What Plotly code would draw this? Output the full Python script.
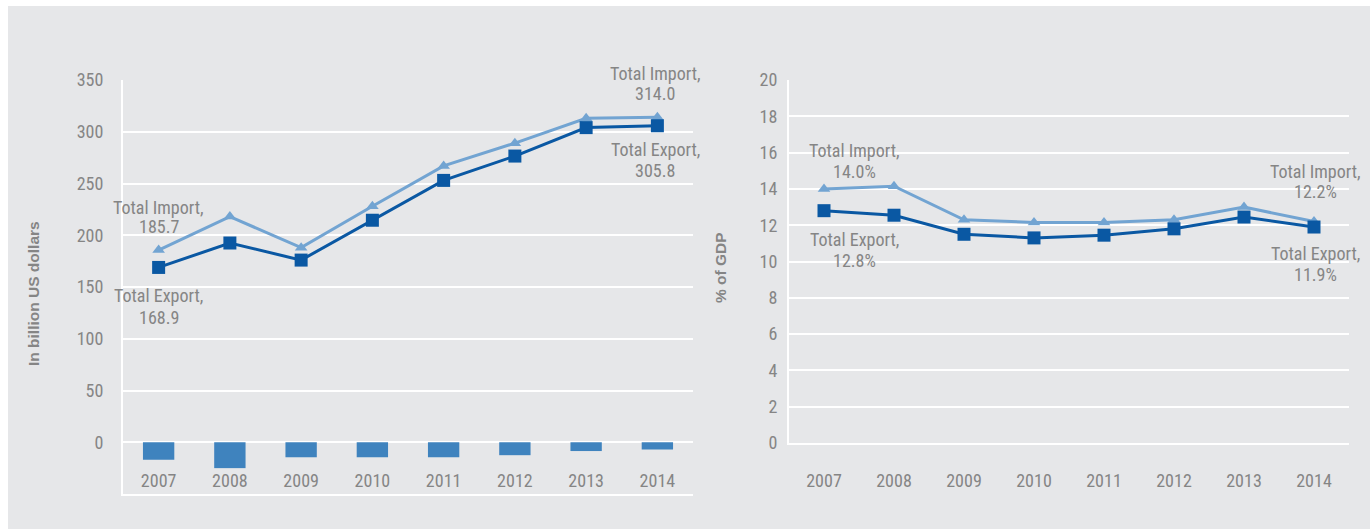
import plotly.graph_objects as go

years = ["2007", "2008", "2009", "2010", "2011", "2012", "2013", "2014"]

# Left panel: billion US dollars
import_usd = [185.7, 218.0, 188.0, 228.0, 267.0, 289.0, 313.0, 314.0]
export_usd = [168.9, 192.5, 176.0, 214.5, 253.0, 276.5, 304.0, 305.8]
balance_usd = [-16.8, -25.0, -14.5, -14.5, -14.5, -12.5, -8.5, -7.0]

# Right panel: % of GDP
import_gdp = [14.0, 14.15, 12.3, 12.15, 12.15, 12.3, 13.0, 12.2]
export_gdp = [12.8, 12.55, 11.5, 11.3, 11.45, 11.8, 12.45, 11.9]

left_ticks = [350, 300, 250, 200, 150, 100, 50, 0, -50]
right_ticks = [20, 18, 16, 14, 12, 10, 8, 6, 4, 2, 0]

FONT = "Liberation Sans Narrow, Arial Narrow, Roboto Condensed, sans-serif"
GRAY_TXT = "#858585"
BG = "#e6e7e9"
IMP_C = "#72a4d2"
EXP_C = "#0a58a3"
BAR_C = "#3f83be"

fig = go.Figure()

fig.add_trace(go.Bar(x=years, y=balance_usd, marker=dict(color=BAR_C, line=dict(width=0)),
                     xaxis="x", yaxis="y", showlegend=False))
fig.add_trace(go.Scatter(x=years, y=import_usd, mode="lines+markers",
                         line=dict(color=IMP_C, width=3),
                         marker=dict(symbol="triangle-up", size=11, color=IMP_C),
                         xaxis="x", yaxis="y", showlegend=False))
fig.add_trace(go.Scatter(x=years, y=export_usd, mode="lines+markers",
                         line=dict(color=EXP_C, width=3),
                         marker=dict(symbol="square", size=13, color=EXP_C),
                         xaxis="x", yaxis="y", showlegend=False))
fig.add_trace(go.Scatter(x=years, y=import_gdp, mode="lines+markers",
                         line=dict(color=IMP_C, width=3),
                         marker=dict(symbol="triangle-up", size=11, color=IMP_C),
                         xaxis="x2", yaxis="y2", showlegend=False))
fig.add_trace(go.Scatter(x=years, y=export_gdp, mode="lines+markers",
                         line=dict(color=EXP_C, width=3),
                         marker=dict(symbol="square", size=13, color=EXP_C),
                         xaxis="x2", yaxis="y2", showlegend=False))

W, H = 1370, 529
ml, mr, mt, mb = 123, 21, 80, 35
pw = W - ml - mr
ph = H - mt - mb

tickfont = dict(family=FONT, size=18, color=GRAY_TXT)

fig.update_layout(
    width=W, height=H,
    margin=dict(l=ml, r=mr, t=mt, b=mb),
    paper_bgcolor="white", plot_bgcolor=BG,
    bargap=0.56,
    hovermode=False,
    font=dict(family=FONT, size=18, color=GRAY_TXT),
    xaxis=dict(domain=[0, 570 / pw], type="category", range=[-0.5, 7.5],
               showgrid=False, zeroline=False, showline=True, linecolor="white", linewidth=2,
               ticks="", tickfont=tickfont, ticklabelposition="inside", ticklabelstandoff=4,
               anchor="y"),
    yaxis=dict(domain=[0, 1], range=[-50, 350], tickvals=left_ticks,
               showgrid=True, gridcolor="white", gridwidth=2,
               zeroline=True, zerolinecolor="white", zerolinewidth=2,
               showline=True, linecolor="white", linewidth=2,
               ticks="", tickfont=tickfont, ticklabelstandoff=14, anchor="x"),
    xaxis2=dict(domain=[(789 - ml) / pw, 1], type="category", range=[-0.5, 7.5],
                showgrid=False, zeroline=False, showline=True, linecolor="white", linewidth=2,
                ticks="", tickfont=tickfont, ticklabelstandoff=20, anchor="y2"),
    yaxis2=dict(domain=[(494 - 443) / ph, 1], range=[0, 20], tickvals=right_ticks,
                showgrid=True, gridcolor="white", gridwidth=2,
                zeroline=False, showline=True, linecolor="white", linewidth=2,
                ticks="", tickfont=tickfont, ticklabelstandoff=6, anchor="x2"),
    shapes=[dict(type="rect", xref="paper", yref="paper", layer="below",
                 x0=(8 - ml) / pw, x1=(W - ml) / pw + 0.01,
                 y0=(494 - H) / ph - 0.01, y1=(494 - 6) / ph,
                 fillcolor=BG, line=dict(width=0))],
)

ann_font = dict(family=FONT, size=18, color=GRAY_TXT)
first, last = 0, len(years) - 1
anns = []


def label(idx, val, axis, name, valtext, shift1, shift2, xshift=0):
    xr, yr = ("x", "y") if axis == 1 else ("x2", "y2")
    for txt, ys in ((name + ",", shift1), (valtext, shift2)):
        anns.append(dict(x=idx, y=val, xref=xr, yref=yr, text=txt, showarrow=False,
                         xanchor="center", yanchor="middle", yshift=ys, xshift=xshift,
                         font=ann_font))


label(first, import_usd[first], 1, "Total Import", f"{import_usd[first]:.1f}", 43, 24)
label(first, export_usd[first], 1, "Total Export", f"{export_usd[first]:.1f}", -28, -50)
label(last, import_usd[last], 1, "Total Import", f"{import_usd[last]:.1f}", 44, 23.5, -2)
label(last, export_usd[last], 1, "Total Export", f"{export_usd[last]:.1f}", -23.5, -45, -2)
label(first, import_gdp[first], 2, "Total Import", f"{import_gdp[first]:.1f}%", 38, 17.5, 30)
label(first, export_gdp[first], 2, "Total Export", f"{export_gdp[first]:.1f}%", -29, -50, 30)
label(last, import_gdp[last], 2, "Total Import", f"{import_gdp[last]:.1f}%", 50.5, 30, 1)
label(last, export_gdp[last], 2, "Total Export", f"{export_gdp[last]:.1f}%", -26, -47.5, 1)

title_font = dict(family="Liberation Sans, Arial, sans-serif", size=15.5, color=GRAY_TXT)
anns.append(dict(x=(33 - ml) / pw, y=(494 - 294) / ph, xref="paper", yref="paper",
                 xanchor="center", yanchor="middle",
                 text="<b>In billion US dollars</b>", textangle=-90, showarrow=False,
                 font=title_font))
anns.append(dict(x=(720 - ml) / pw, y=(494 - 268) / ph, xref="paper", yref="paper",
                 xanchor="center", yanchor="middle",
                 text="<b>% of GDP</b>", textangle=-90, showarrow=False,
                 font=title_font))
fig.update_layout(annotations=anns)

fig.write_html("out.html", config={"displayModeBar": False},
               post_script="document.body.style.margin='0';")
